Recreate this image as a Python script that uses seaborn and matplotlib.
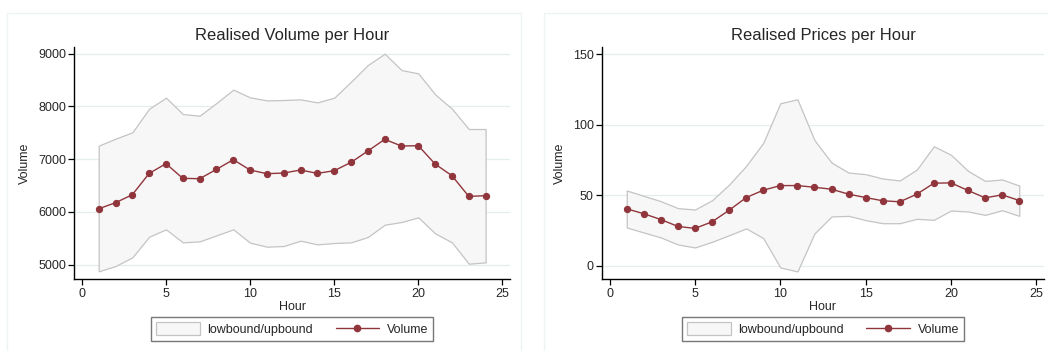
import matplotlib
matplotlib.use('Agg')
import matplotlib.pyplot as plt
import pandas as pd
import seaborn as sns
from matplotlib.patches import Patch, Rectangle
from matplotlib.lines import Line2D

hours = list(range(1, 25))

volume = [6060, 6175, 6327, 6731, 6915, 6637, 6630, 6807, 6991, 6795, 6725, 6738,
          6795, 6731, 6782, 6940, 7155, 7376, 7250, 7256, 6908, 6687, 6295, 6308]
volume_up = [7256, 7389, 7509, 7957, 8166, 7856, 7825, 8065, 8318, 8172, 8115, 8122,
             8134, 8077, 8166, 8469, 8785, 9000, 8690, 8627, 8229, 7957, 7572, 7572]
volume_low = [4874, 4975, 5139, 5531, 5670, 5423, 5442, 5556, 5670, 5417, 5341, 5354,
              5455, 5385, 5411, 5423, 5525, 5758, 5809, 5897, 5594, 5423, 5019, 5044]

price = [40.4, 36.9, 32.8, 27.9, 26.5, 31.2, 39.4, 48.4, 53.6, 56.9, 56.9, 55.7,
         54.3, 50.8, 48.4, 46.1, 45.4, 50.8, 58.6, 58.8, 53.4, 48.2, 50.3, 46.3]
price_up = [53.4, 49.6, 45.8, 40.9, 39.9, 46.5, 57.6, 70.9, 87.2, 115.3, 118.1, 89.1,
            73.2, 66.1, 65.0, 61.9, 60.5, 68.3, 84.8, 78.7, 67.3, 60.2, 61.2, 56.9]
price_low = [27.2, 23.6, 20.1, 15.1, 13.0, 17.0, 21.7, 26.5, 19.6, -1.2, -4.0, 22.9,
             35.0, 35.4, 32.4, 30.2, 30.2, 33.3, 32.6, 39.2, 38.5, 36.1, 39.4, 35.4]

titles = ['Realised Volume per Hour', 'Realised Prices per Hour']
x_ticks = [0, 5, 10, 15, 20, 25]
y_ticks_volume = [5000, 6000, 7000, 8000, 9000]
y_ticks_price = [0, 50, 100, 150]

sns.set_style('white')
plt.rcParams['font.family'] = ['Liberation Sans', 'DejaVu Sans']

maroon = '#90353B'
fill_col = '#f7f7f7'
edge_col = '#c4c4c4'
grid_col = '#e4eeee'
frame_col = '#eef3f3'

fig = plt.figure(figsize=(10.48, 3.51), dpi=100)
W, H = 1048, 351

# outer graph-region frames (Stata style)
for x0, x1 in [(7, 521), (544, 1060)]:
    fig.patches.append(Rectangle((x0 / W, -0.1), (x1 - x0) / W, 1 - 13 / H + 0.1,
                                 transform=fig.transFigure, fill=False,
                                 edgecolor=frame_col, linewidth=1.0))

ax1 = fig.add_axes([74.3 / W, 1 - 279.3 / H, (510 - 74.3) / W, (279.3 - 47) / H])
ax2 = fig.add_axes([602 / W, 1 - 279.3 / H, (1044 - 602) / W, (279.3 - 47) / H])

panels = [
    (ax1, volume, volume_low, volume_up, y_ticks_volume, (4723, 9127), titles[0]),
    (ax2, price, price_low, price_up, y_ticks_price, (-9.6, 155.2), titles[1]),
]

for ax, mid, low, up, yt, ylim, title in panels:
    df = pd.DataFrame({'Hour': hours, 'Volume': mid})
    for y in yt:
        ax.axhline(y, color=grid_col, linewidth=0.9, zorder=0)
    ax.fill_between(hours, low, up, facecolor=fill_col, edgecolor=edge_col,
                    linewidth=0.9, zorder=1)
    sns.lineplot(data=df, x='Hour', y='Volume', ax=ax, color=maroon, marker='o',
                 markersize=4.5, markeredgecolor=maroon, linewidth=1.0, zorder=3)
    ax.set_xlim(-0.45, 25.45)
    ax.set_ylim(*ylim)
    ax.set_xticks(x_ticks)
    ax.set_yticks(yt)
    ax.set_title(title, fontsize=11.9, pad=5)
    ax.set_xlabel('Hour', fontsize=9, labelpad=1)
    ax.set_ylabel('Volume', fontsize=9, labelpad=5)
    ax.tick_params(axis='both', labelsize=9, direction='out', length=4, width=0.9,
                   color='black', pad=2, left=True, bottom=True)
    for s in ['top', 'right']:
        ax.spines[s].set_visible(False)
    for s in ['left', 'bottom']:
        ax.spines[s].set_color('black')
        ax.spines[s].set_linewidth(1.0)
    ax.grid(False)

    handles = [
        Patch(facecolor=fill_col, edgecolor=edge_col, linewidth=0.9),
        Line2D([0], [0], color=maroon, marker='o', markersize=4.5, linewidth=1.0),
    ]
    leg = ax.legend(handles, ['lowbound/upbound', 'Volume'], ncol=2,
                    loc='center', bbox_to_anchor=(0.5, -0.214), fontsize=9,
                    frameon=True, fancybox=False, edgecolor='#555555',
                    handlelength=3.5, handleheight=1.2, columnspacing=1.8,
                    borderpad=0.4, handletextpad=0.6)
    leg.get_frame().set_linewidth(1.0)

fig.savefig('out.png', dpi=100)
